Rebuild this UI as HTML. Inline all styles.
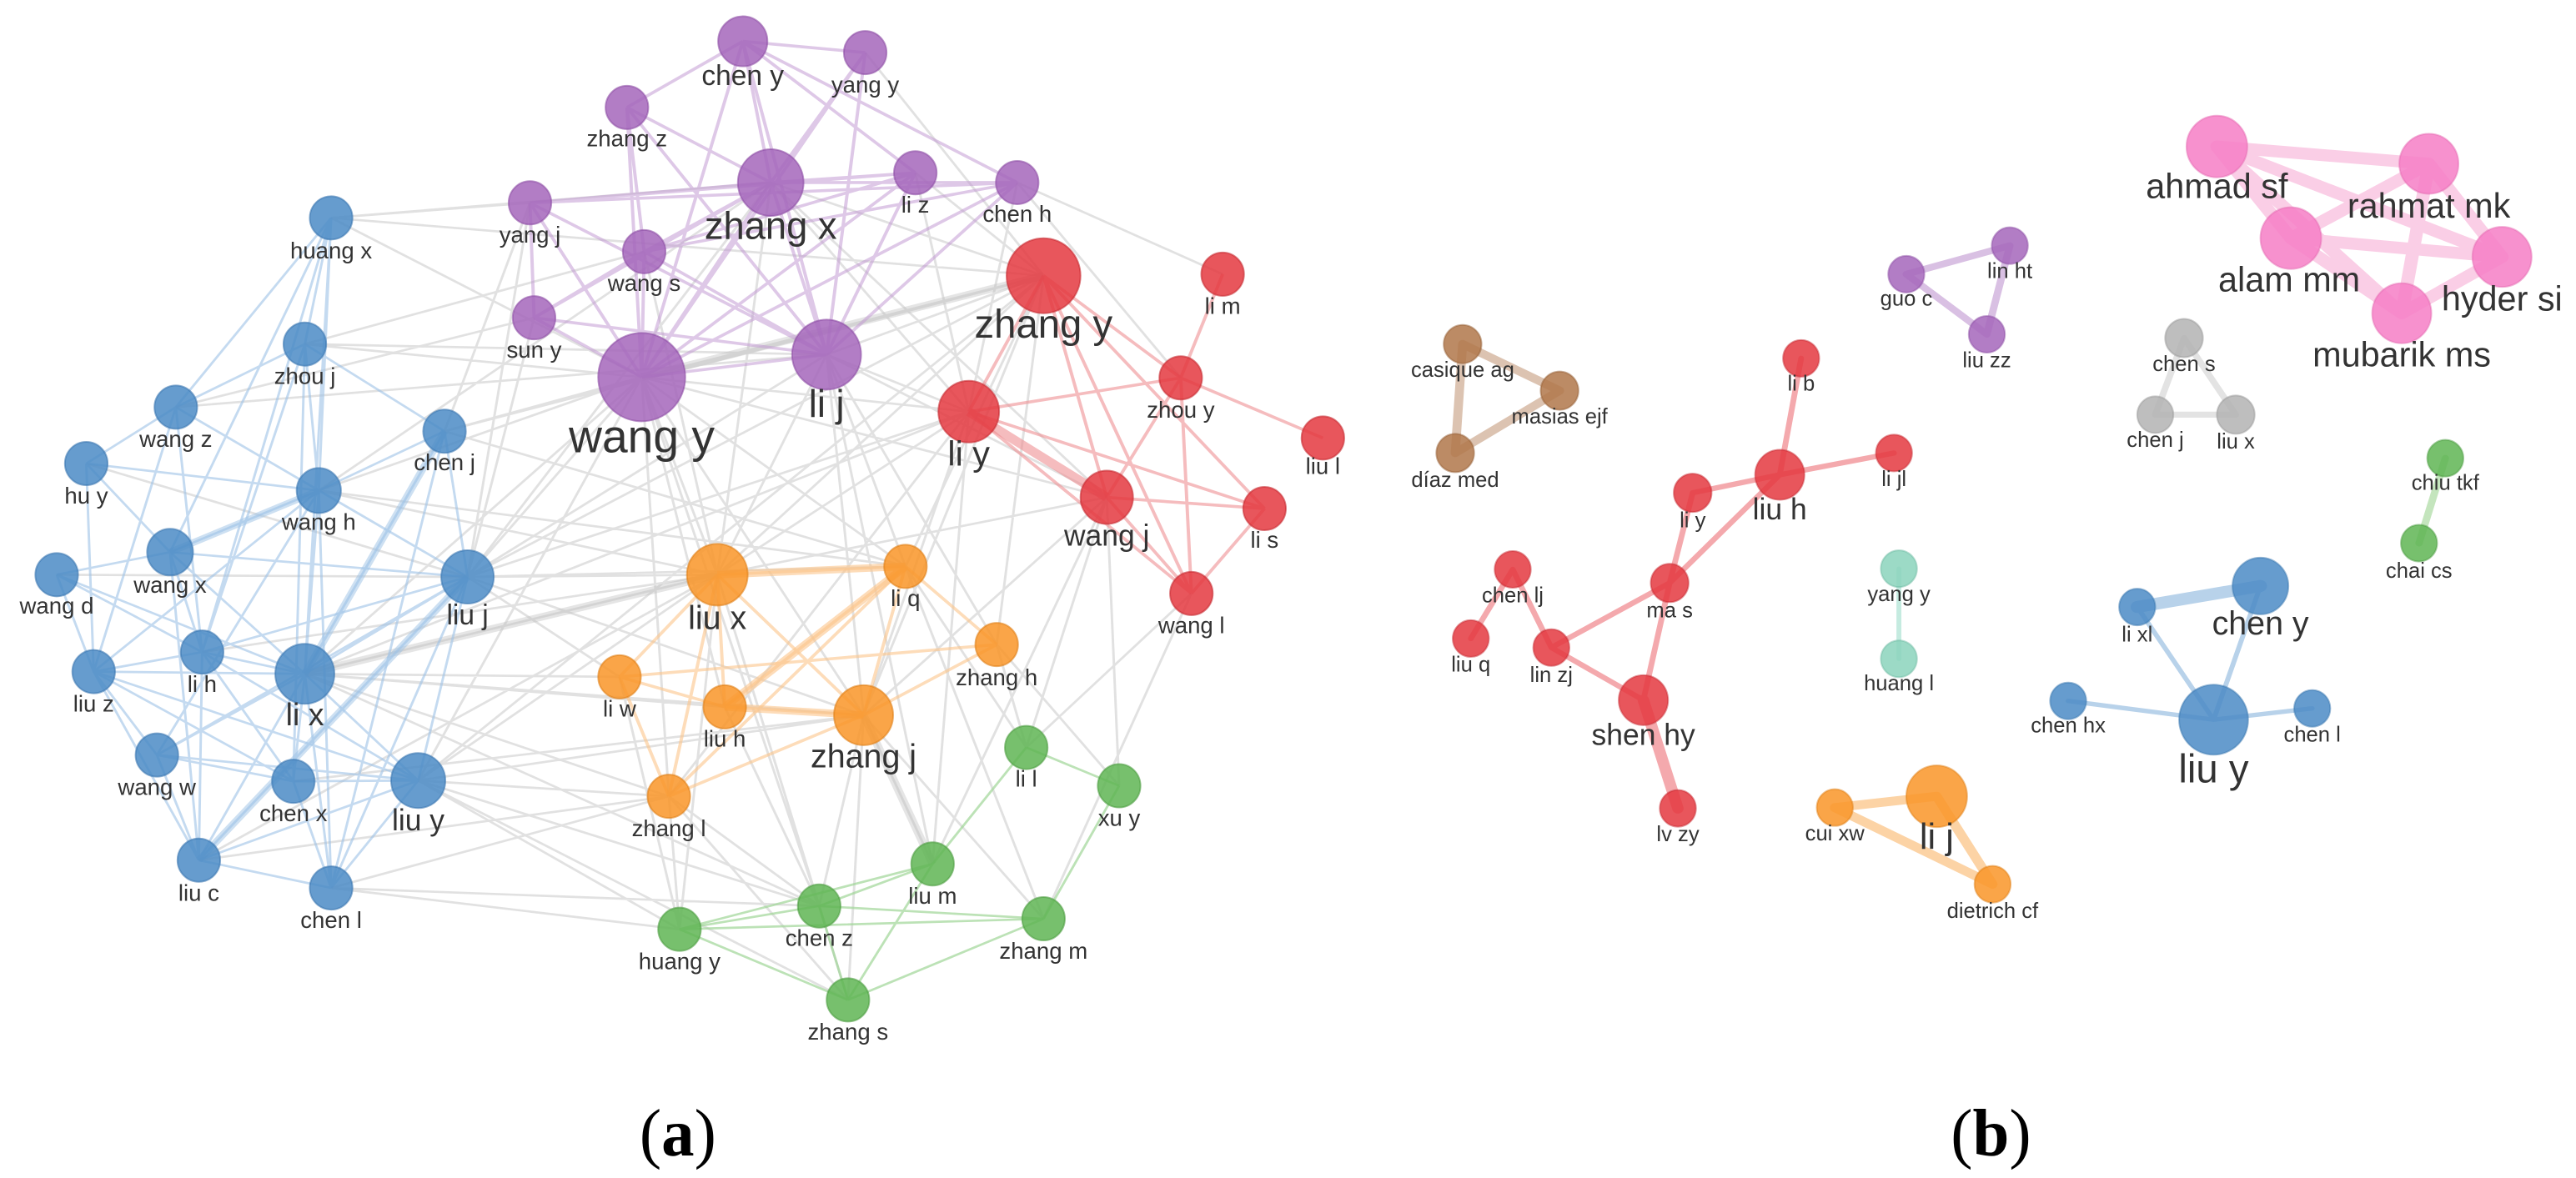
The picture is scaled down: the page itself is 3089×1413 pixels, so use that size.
<!DOCTYPE html>
<html><head><meta charset="utf-8"><style>
html,body{margin:0;padding:0;background:#fff}
svg{display:block}
text{font-family:"Liberation Sans",sans-serif;fill:#333;text-anchor:middle}
.c{font-family:"Liberation Serif",serif;fill:#000;font-size:80px}
g.s circle, g.s text{transform-box:fill-box;transform-origin:center;transform:scaleY(1.1097)}
</style></head><body>
<svg width="3089" height="1413" viewBox="0 0 3089 1413" xmlns="http://www.w3.org/2000/svg">
<rect width="3089" height="1413" fill="#fff"/>
<g class="s" transform="scale(0.9853,0.9011)">
<path fill="none" stroke="#bdbdbd" stroke-opacity="0.45" stroke-width="3" d="
M781 502L873 765M781 502L569 768M781 502L1051 952M781 502L1179 548M781 502L371 897M781 502L509 1039M781 502L541 574M781 502L388 653M781 502L371 458M781 502L403 290M781 502L882 941M781 502L814 1060M781 502L997 1206M781 502L1347 662M781 502L1102 754
M1006 472L1179 548M1006 472L873 765M1006 472L1051 952M1006 472L1347 662M1006 472L569 768M1006 472L1102 754M1006 472L1213 858M1006 472L1135 1150
M938 243L1270 367M938 243L1179 548M938 243L873 765M938 243L569 768M938 243L403 290M938 243L388 653M938 243L1347 662
M1270 367L873 765M1270 367L1051 952M1270 367L1102 754M1270 367L509 1039M1270 367L569 768M1270 367L541 574M1270 367L403 290M1270 367L1213 858
M1179 548L873 765M1179 548L1051 952M1179 548L814 1060M1179 548L569 768M1179 548L371 897M1179 548L1135 1150
M1347 662L1051 952M1347 662L873 765M1347 662L1249 995M1347 662L1362 1046M1450 790L1270 1223M1450 790L1249 995
M569 768L873 765M569 768L754 901M569 768L1051 952M569 768L1102 754M371 897L873 765M371 897L754 901M371 897L882 941M371 897L1051 952M371 897L814 1060M371 897L997 1206
M509 1039L873 765M509 1039L814 1060M509 1039L827 1237M509 1039L997 1206M509 1039L1051 952M509 1039L1032 1331
M403 1182L814 1060M403 1182L827 1237M403 1182L997 1206M242 1145L814 1060M242 1145L873 765M357 1040L1051 952M388 653L873 765M388 653L1102 754M541 574L1102 754
M403 290L645 270M371 458L784 335M371 458L1006 472M214 542L1006 472M214 542L650 423
M1051 952L1135 1150M1051 952L1032 1331M1051 952L997 1206M1051 952L1270 1223M873 765L997 1206M873 765L827 1237M873 765L1032 1331M814 1060L1032 1331M814 1060L827 1237M814 1060L997 1206M882 941L997 1206M1102 754L1249 995M1102 754L1270 1223M1213 858L1362 1046M1213 858L1249 995M754 901L827 1237
M1238 243L1179 548M1238 243L1488 365M1238 243L1437 503M1053 70L1270 367M1114 230L1270 367M1114 230L1179 548M650 423L569 768M784 335L873 765M645 270L569 768M645 270L541 574M69 765L569 768M105 617L569 768M246 868L873 765M1249 995L1450 790M1135 1150L1347 662
M781 502L1270 367M1006 472L1270 367"/>
<path fill="none" stroke="#bdbdbd" stroke-opacity="0.4" stroke-width="10" d="M781 502L1270 367M371 897L873 765M1051 952L1135 1150"/>
<path fill="none" stroke="#c39ad4" stroke-opacity="0.55" stroke-width="4" d="
M781 502L904 55M781 502L1053 70M781 502L763 143M781 502L938 243M781 502L1114 230M781 502L1238 243M781 502L645 270M781 502L784 335M781 502L650 423M781 502L1006 472
M1006 472L904 55M1006 472L1053 70M1006 472L763 143M1006 472L938 243M1006 472L1114 230M1006 472L1238 243M1006 472L645 270M1006 472L784 335M1006 472L650 423
M938 243L904 55M938 243L763 143M938 243L1114 230M938 243L1238 243M938 243L645 270M938 243L784 335M938 243L650 423M938 243L1053 70
M904 55L763 143M904 55L1053 70M904 55L1114 230M904 55L1238 243M645 270L1238 243M645 270L1114 230M763 143L784 335M650 423L645 270M784 335L1238 243M784 335L1114 230M650 423L784 335"/>
<path fill="none" stroke="#ee8f93" stroke-opacity="0.6" stroke-width="4" d="
M1270 367L1179 548M1270 367L1347 662M1270 367L1437 503M1179 548L1437 503M1179 548L1539 677M1347 662L1539 677M1347 662L1437 503M1347 662L1450 790M1488 365L1437 503M1437 503L1450 790M1437 503L1610 583M1539 677L1450 790M1270 367L1539 677M1179 548L1450 790M1270 367L1450 790"/>
<path fill="none" stroke="#ee8f93" stroke-opacity="0.6" stroke-width="12" d="M1179 548L1347 662"/>
<path fill="none" stroke="#9cc2e6" stroke-opacity="0.6" stroke-width="3" d="
M403 290L388 653M403 290L371 458M403 290L371 897M403 290L207 735M403 290L246 868M403 290L214 542
M371 458L388 653M371 458L246 868M371 458L357 1040M371 458L541 574M371 458L214 542
M214 542L105 617M214 542L388 653M214 542L114 894M214 542L246 868M214 542L569 768
M541 574L388 653M541 574L569 768M541 574L371 897M541 574L403 1182
M105 617L388 653M105 617L207 735M105 617L114 894
M388 653L207 735M388 653L569 768M388 653L371 897M388 653L114 894M388 653L191 1005M388 653L403 1182
M207 735L69 765M207 735L569 768M207 735L246 868M207 735L371 897M207 735L242 1145
M69 765L246 868M69 765L114 894M69 765L371 897
M569 768L246 868M569 768L371 897M569 768L509 1039M569 768L242 1145M569 768L191 1005M569 768L403 1182
M246 868L114 894M246 868L371 897M246 868L357 1040M246 868L509 1039M246 868L242 1145
M114 894L371 897M114 894L191 1005M114 894L242 1145M114 894L357 1040M114 894L509 1039
M371 897L191 1005M371 897L357 1040M371 897L509 1039M371 897L403 1182M371 897L242 1145
M191 1005L242 1145M191 1005L357 1040M191 1005L509 1039M357 1040L509 1039M357 1040L403 1182M509 1039L242 1145M509 1039L403 1182M242 1145L403 1182"/>
<path fill="none" stroke="#9cc2e6" stroke-opacity="0.5" stroke-width="9" d="M569 768L242 1145M388 653L207 735M541 574L371 897"/>
<path fill="none" stroke="#fbc48a" stroke-opacity="0.6" stroke-width="4" d="
M873 765L1102 754M873 765L1051 952M873 765L882 941M873 765L754 901M1102 754L814 1060M1102 754L882 941M1102 754L1051 952M1213 858L754 901M1213 858L1051 952M754 901L882 941M882 941L1051 952M814 1060L873 765M814 1060L1051 952M754 901L814 1060M1102 754L1213 858"/>
<path fill="none" stroke="#fbc48a" stroke-opacity="0.6" stroke-width="10" d="M873 765L1102 754M1102 754L882 941M882 941L1051 952"/>
<path fill="none" stroke="#9fd597" stroke-opacity="0.7" stroke-width="3" d="
M1249 995L1135 1150M1249 995L1362 1046M1362 1046L1270 1223M1135 1150L997 1206M1135 1150L1032 1331M997 1206L827 1237M997 1206L1032 1331M827 1237L1032 1331M827 1237L1270 1223M1270 1223L1032 1331M827 1237L1135 1150M997 1206L1270 1223"/>
<g fill-opacity="0.85" stroke-opacity="0.6" stroke-width="2">
<g fill="#a466bb" stroke="#8d4fa5">
<circle cx="904" cy="55" r="30"/><circle cx="1053" cy="70" r="26"/><circle cx="763" cy="143" r="26"/><circle cx="938" cy="243" r="40"/><circle cx="1114" cy="230" r="26"/><circle cx="1238" cy="243" r="26"/><circle cx="645" cy="270" r="26"/><circle cx="784" cy="335" r="26"/><circle cx="650" cy="423" r="26"/><circle cx="781" cy="502" r="53"/><circle cx="1006" cy="472" r="42"/></g>
<g fill="#e4383f" stroke="#c72a31">
<circle cx="1270" cy="367" r="45"/><circle cx="1488" cy="365" r="26"/><circle cx="1437" cy="503" r="26"/><circle cx="1179" cy="548" r="37"/><circle cx="1347" cy="662" r="32"/><circle cx="1539" cy="677" r="26"/><circle cx="1450" cy="790" r="26"/><circle cx="1610" cy="583" r="26"/></g>
<g fill="#4b8bc6" stroke="#3a77b0">
<circle cx="403" cy="290" r="26"/><circle cx="371" cy="458" r="26"/><circle cx="214" cy="542" r="26"/><circle cx="541" cy="574" r="26"/><circle cx="105" cy="617" r="26"/><circle cx="388" cy="653" r="27"/><circle cx="207" cy="735" r="28"/><circle cx="69" cy="765" r="26"/><circle cx="569" cy="768" r="32"/><circle cx="246" cy="868" r="26"/><circle cx="114" cy="894" r="26"/><circle cx="371" cy="897" r="36"/><circle cx="191" cy="1005" r="26"/><circle cx="357" cy="1040" r="26"/><circle cx="509" cy="1039" r="33"/><circle cx="242" cy="1145" r="26"/><circle cx="403" cy="1182" r="26"/></g>
<g fill="#f99528" stroke="#e07f15">
<circle cx="873" cy="765" r="37"/><circle cx="1102" cy="754" r="26"/><circle cx="1213" cy="858" r="26"/><circle cx="754" cy="901" r="26"/><circle cx="882" cy="941" r="26"/><circle cx="1051" cy="952" r="36"/><circle cx="814" cy="1060" r="26"/></g>
<g fill="#5fb553" stroke="#4c9c41">
<circle cx="1249" cy="995" r="26"/><circle cx="1362" cy="1046" r="26"/><circle cx="1135" cy="1150" r="26"/><circle cx="997" cy="1206" r="26"/><circle cx="827" cy="1237" r="26"/><circle cx="1270" cy="1223" r="26"/><circle cx="1032" cy="1331" r="26"/></g>
</g>
<g font-size="28">
<text x="904" y="112" font-size="34">chen y</text><text x="1053" y="122">yang y</text><text x="763" y="194">zhang z</text><text x="1114" y="282">li z</text><text x="1238" y="294">chen h</text><text x="645" y="322">yang j</text><text x="784" y="386">wang s</text><text x="650" y="475">sun y</text>
<text x="938" y="316" font-size="46">zhang x</text><text x="781" y="600" font-size="56">wang y</text><text x="1006" y="553" font-size="46">li j</text>
<text x="1270" y="448" font-size="48">zhang y</text><text x="1488" y="417">li m</text><text x="1437" y="555">zhou y</text><text x="1179" y="618" font-size="42">li y</text><text x="1347" y="725" font-size="36">wang j</text><text x="1539" y="728">li s</text><text x="1450" y="842">wang l</text>
<text x="403" y="343">huang x</text><text x="371" y="510">zhou j</text><text x="214" y="594">wang z</text><text x="541" y="625">chen j</text><text x="105" y="669">hu y</text><text x="388" y="704">wang h</text><text x="207" y="788">wang x</text><text x="69" y="816">wang d</text><text x="569" y="830" font-size="34">liu j</text><text x="246" y="920">li h</text><text x="114" y="946">liu z</text><text x="371" y="964" font-size="38">li x</text><text x="191" y="1057">wang w</text><text x="357" y="1092">chen x</text><text x="509" y="1104" font-size="36">liu y</text><text x="242" y="1198">liu c</text><text x="403" y="1234">chen l</text>
<text x="873" y="836" font-size="40">liu x</text><text x="1102" y="806">li q</text><text x="1213" y="911">zhang h</text><text x="754" y="953">li w</text><text x="882" y="993">liu h</text><text x="1051" y="1020" font-size="40">zhang j</text><text x="814" y="1112">zhang l</text>
<text x="1249" y="1046">li l</text><text x="1362" y="1098">xu y</text><text x="1135" y="1202">liu m</text><text x="997" y="1258">chen z</text><text x="827" y="1289">huang y</text><text x="1270" y="1275">zhang m</text><text x="1032" y="1383">zhang s</text>
<text x="1610" y="630">liu l</text>
</g>
<text class="c" x="825" y="1535">(<tspan font-weight="bold">a</tspan>)</text>
</g>

<g class="s" transform="translate(1545,0) scale(0.9853,0.9011)">
<g fill="none" stroke-linecap="round">
<g stroke="#f7b3d9" stroke-opacity="0.65" stroke-width="16">
<path d="M1130 195L1388 218M1130 195L1220 317M1130 195L1477 342M1130 195L1355 417M1388 218L1220 317M1388 218L1477 342M1388 218L1355 417M1220 317L1477 342M1220 317L1355 417M1477 342L1355 417"/></g>
<path stroke="#d9c0e3" stroke-width="9" d="M752 365L878 327M878 327L850 445M752 365L850 445"/>
<path stroke="#dcc3b1" stroke-width="11" d="M212 458L330 520M330 520L203 603M212 458L203 603"/>
<path stroke="#e3e3e3" stroke-width="8" d="M1090 450L1055 552M1090 450L1153 552M1055 552L1153 552"/>
<path stroke="#c4e5bd" stroke-width="9" d="M1408 610L1376 723"/>
<path stroke="#c5ebe0" stroke-width="6" d="M743 757L743 877"/>
<path stroke="#b8d2ea" stroke-width="6" d="M1033 808L1126 958M1183 780L1126 958M949 933L1126 958M1126 958L1246 943"/>
<path stroke="#b8d2ea" stroke-width="16" d="M1033 808L1183 780"/>
<path stroke="#f4a9ad" stroke-width="7" d="M624 477L598 632M598 632L737 603M598 632L492 656M598 632L464 776M492 656L464 776M464 776L320 862M464 776L432 932M273 758L222 850M273 758L320 862M320 862L432 932"/>
<path stroke="#f4a9ad" stroke-width="14" d="M432 932L474 1076"/>
<path stroke="#fcd3a5" stroke-width="12" d="M665 1075L789 1060M789 1060L857 1177M665 1075L857 1177"/>
</g>
<g fill-opacity="0.85" stroke-opacity="0.5" stroke-width="2">
<g fill="#f67ec5" stroke="#e569b2"><circle cx="1130" cy="195" r="37"/><circle cx="1388" cy="218" r="36"/><circle cx="1220" cy="317" r="37"/><circle cx="1477" cy="342" r="36"/><circle cx="1355" cy="417" r="36"/></g>
<g fill="#a466bb" stroke="#8d4fa5"><circle cx="752" cy="365" r="22"/><circle cx="878" cy="327" r="22"/><circle cx="850" cy="445" r="22"/></g>
<g fill="#b0774a" stroke="#955f35"><circle cx="212" cy="458" r="23"/><circle cx="330" cy="520" r="23"/><circle cx="203" cy="603" r="23"/></g>
<g fill="#b3b3b3" stroke="#999"><circle cx="1090" cy="450" r="23"/><circle cx="1055" cy="552" r="22"/><circle cx="1153" cy="552" r="23"/></g>
<g fill="#5fb553" stroke="#4c9c41"><circle cx="1408" cy="610" r="22"/><circle cx="1376" cy="723" r="22"/></g>
<g fill="#8bd3bc" stroke="#70bba3"><circle cx="743" cy="757" r="22"/><circle cx="743" cy="877" r="22"/></g>
<g fill="#4b8bc6" stroke="#3a77b0"><circle cx="1033" cy="808" r="22"/><circle cx="1183" cy="780" r="34"/><circle cx="949" cy="933" r="22"/><circle cx="1126" cy="958" r="42"/><circle cx="1246" cy="943" r="22"/></g>
<g fill="#e4383f" stroke="#c72a31"><circle cx="624" cy="477" r="22"/><circle cx="598" cy="632" r="30"/><circle cx="737" cy="603" r="22"/><circle cx="492" cy="656" r="23"/><circle cx="464" cy="776" r="23"/><circle cx="273" cy="758" r="22"/><circle cx="222" cy="850" r="22"/><circle cx="320" cy="862" r="22"/><circle cx="432" cy="932" r="30"/><circle cx="474" cy="1076" r="22"/></g>
<g fill="#f99528" stroke="#e07f15"><circle cx="665" cy="1075" r="22"/><circle cx="789" cy="1060" r="37"/><circle cx="857" cy="1177" r="22"/></g>
</g>
<g font-size="26">
<text x="1130" y="262" font-size="42">ahmad sf</text><text x="1388" y="288" font-size="42">rahmat mk</text><text x="1218" y="386" font-size="42">alam mm</text><text x="1477" y="412" font-size="42">hyder si</text><text x="1355" y="486" font-size="42">mubarik ms</text>
<text x="752" y="406">guo c</text><text x="878" y="369">lin ht</text><text x="850" y="488">liu zz</text>
<text x="212" y="501">casique ag</text><text x="330" y="563">masias ejf</text><text x="203" y="647">díaz med</text>
<text x="1090" y="493">chen s</text><text x="1055" y="594">chen j</text><text x="1153" y="596">liu x</text>
<text x="1408" y="651">chiu tkf</text><text x="1376" y="768">chai cs</text>
<text x="743" y="799">yang y</text><text x="743" y="918">huang l</text>
<text x="1033" y="853">li xl</text><text x="1183" y="843" font-size="40">chen y</text><text x="949" y="974">chen hx</text><text x="1126" y="1040" font-size="48">liu y</text><text x="1246" y="986">chen l</text>
<text x="624" y="519">li b</text><text x="598" y="690" font-size="36">liu h</text><text x="737" y="646">li jl</text><text x="492" y="701">li y</text><text x="464" y="821">ma s</text><text x="273" y="801">chen lj</text><text x="222" y="893">liu q</text><text x="320" y="907">lin zj</text><text x="432" y="990" font-size="36">shen hy</text><text x="474" y="1119">lv zy</text>
<text x="665" y="1118">cui xw</text><text x="789" y="1128" font-size="44">li j</text><text x="857" y="1221">dietrich cf</text>
</g>
<text class="c" x="855" y="1535">(<tspan font-weight="bold">b</tspan>)</text>
</g>
</svg>
</body></html>
